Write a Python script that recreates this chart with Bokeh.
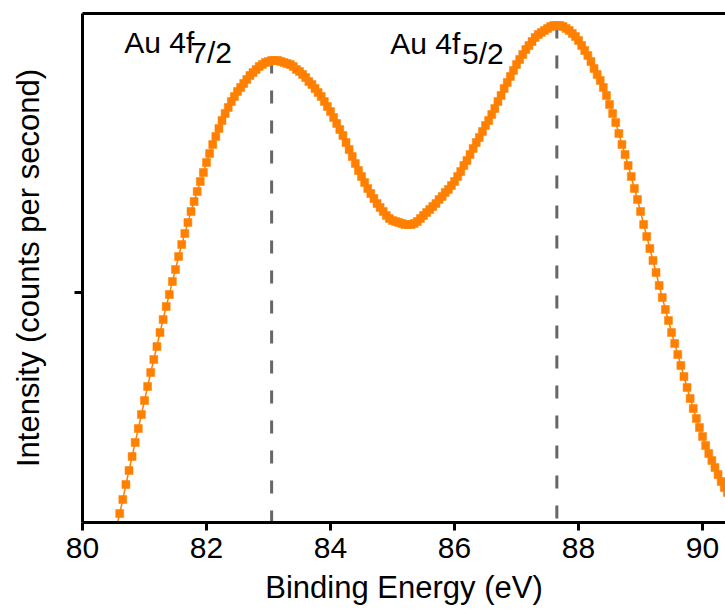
from bokeh.plotting import figure
from bokeh.models import Range1d, FixedTicker, Label, LinearAxis
from bokeh.embed import file_html
from bokeh.resources import INLINE

# Au 4f XPS spectrum, intensity (arbitrary counts per second)
intensity = [
    -5, 8, 22, 37, 51, 65, 79, 93, 107, 121,
    135, 149, 162, 175, 189, 202, 215, 227, 240, 252,
    265, 277, 288, 299, 310, 320, 330, 340, 349, 359,
    368, 377, 385, 393, 401, 408, 414, 420, 425, 430,
    434, 438, 442, 446, 449, 452, 455, 457, 459, 460,
    461, 461, 461, 460, 459, 458, 457, 455, 452, 450,
    447, 444, 440, 437, 433, 429, 425, 420, 415, 410,
    404, 398, 392, 386, 379, 372, 365, 358, 351, 345,
    339, 333, 328, 323, 318, 314, 310, 306, 303, 301,
    300, 299, 298, 297, 297, 297, 298, 300, 303, 306,
    309, 312, 315, 318, 322, 325, 329, 332, 336, 340,
    345, 350, 356, 361, 367, 373, 379, 384, 390, 396,
    401, 407, 413, 420, 426, 433, 439, 445, 451, 457,
    462, 467, 472, 476, 480, 484, 487, 489, 491, 493,
    495, 496, 496, 496, 495, 493, 491, 488, 485, 481,
    476, 471, 466, 460, 453, 447, 441, 434, 426, 417,
    408, 399, 388, 377, 367, 356, 345, 333, 322, 310,
    297, 285, 273, 261, 249, 236, 224, 212, 201, 189,
    178, 167, 156, 145, 134, 123, 113, 103, 94, 85,
    76, 68, 61, 54, 47, 40, 34, 29, 24,
]
energy_start = 80.55
energy_step = 0.05
binding_energy = [round(energy_start + energy_step * i, 2) for i in range(len(intensity))]

peak_energy = [83.05, 87.65]
peak_intensity = [461, 496]
peak_name = ["Au 4f", "Au 4f"]
peak_sub = ["7/2", "5/2"]

x_ticks = [80, 82, 84, 86, 88, 90]
y_ticks = [229]

ORANGE = "#ff8000"
FONT = "Liberation Sans"

p = figure(
    frame_width=643, frame_height=509,
    x_range=Range1d(80, 90.37), y_range=Range1d(-1, 508),
    output_backend="svg", toolbar_location=None,
    min_border_left=82, min_border_right=0, min_border_top=13, min_border_bottom=80,
    background_fill_color="white", border_fill_color="white",
)
p.outline_line_color = None
p.xgrid.grid_line_color = None
p.ygrid.grid_line_color = None

# dashed peak markers
p.segment(x0=peak_energy, y0=peak_intensity, x1=peak_energy, y1=[-1] * len(peak_energy),
          line_color="#666666", line_width=3, line_dash="13 17")

# data
p.line(binding_energy, intensity, line_color=ORANGE, line_width=1.5)
p.scatter(binding_energy, intensity, marker="square", size=8,
          fill_color=ORANGE, line_color=ORANGE, line_width=0.5)

# annotations
label_pos = [(80.673, 479.3, 81.737, 469.3), (84.963, 477.7, 86.12, 467.7)]
for (xm, ym, xs, ys), name, sub in zip(label_pos, peak_name, peak_sub):
    p.add_layout(Label(x=xm, y=ym, text=name, text_font=FONT, text_font_size="30px",
                       text_baseline="alphabetic", text_color="black"))
    p.add_layout(Label(x=xs, y=ys, text=sub, text_font=FONT, text_font_size="30px",
                       text_baseline="alphabetic", text_color="black"))

# axes
xa = p.xaxis[0]
xa.ticker = FixedTicker(ticks=x_ticks)
xa.axis_label = "Binding Energy (eV)"
ya = p.yaxis[0]
ya.ticker = FixedTicker(ticks=y_ticks)
ya.axis_label = "Intensity (counts per second)"

for ax in (xa, ya):
    ax.axis_line_width = 3
    ax.axis_line_color = "black"
    ax.major_tick_line_width = 3
    ax.major_tick_line_color = "black"
    ax.major_tick_in = 0
    ax.major_tick_out = 8
    ax.minor_tick_line_color = None
    ax.axis_label_text_font = FONT
    ax.axis_label_text_font_size = "31px"
    ax.axis_label_text_font_style = "normal"
    ax.axis_label_text_color = "black"
    ax.major_label_text_font = FONT
    ax.major_label_text_font_size = "30px"
    ax.major_label_text_color = "black"

ya.major_label_overrides = {y_ticks[0]: ""}
ya.major_label_standoff = 0
ya.axis_label_standoff = 29
xa.major_label_standoff = 7
xa.axis_label_standoff = 9

top = LinearAxis(ticker=FixedTicker(ticks=[]), axis_line_width=3, axis_line_color="black",
                 major_tick_line_color=None, minor_tick_line_color=None,
                 major_label_text_font_size="0px")
p.add_layout(top, "above")

open("out.html", "w").write(file_html(p, INLINE))
